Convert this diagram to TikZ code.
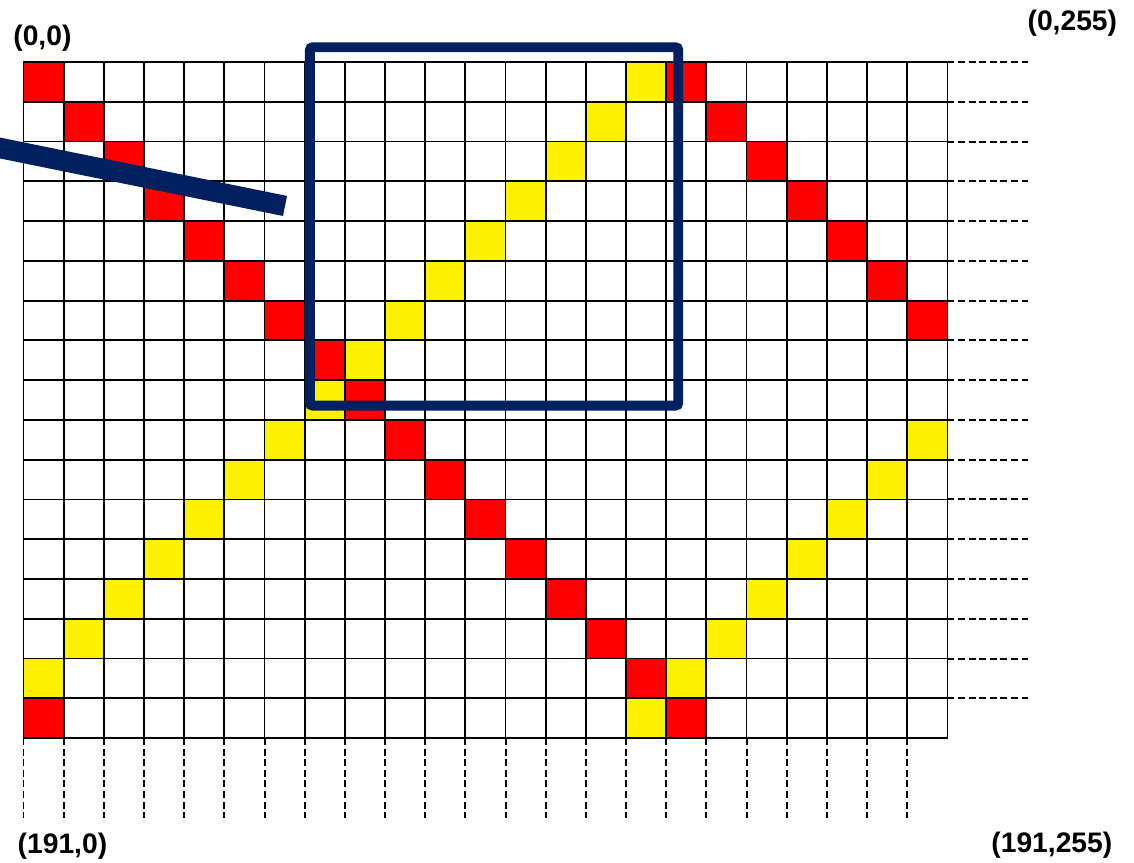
\documentclass[tikz,border=0pt]{standalone}
\usepackage{fontspec}
\setmainfont{Liberation Sans}
\definecolor{bleufonce}{HTML}{002060}
\tikzset{
  grille/.style={line width=1.3pt, black, line cap=rect},
  pointille/.style={line width=1.4pt, black, dash pattern=on 5pt off 2.5pt},
  cadre/.style={draw=bleufonce, line width=7pt, rounded corners=2pt},
  fleche/.style={draw=bleufonce, line width=14.5pt},
  etiquette/.style={font=\fontsize{20}{24}\selectfont\bfseries}
}

\begin{document}
\begin{tikzpicture}[x=1cm, y=-0.99cm]
  \useasboundingbox (-0.585cm,1.543cm) rectangle (27.645cm,-19.94cm);
  \clip (-0.585cm,1.543cm) rectangle (27.645cm,-19.94cm);
  % Cases rouges
  \foreach \i in {0,...,16} {
    \fill[red] (\i,\i) rectangle ++(1,1);
  }
  \foreach \i in {0,...,6} {
    \fill[red] ({16+\i},\i) rectangle ++(1,1);
  }
  \fill[red] (0,16) rectangle ++(1,1);
  % Cases jaunes
  \foreach \i in {0,...,15} {
    \fill[yellow] ({15-\i},\i) rectangle ++(1,1);
  }
  \foreach \i in {9,...,16} {
    \fill[yellow] ({31-\i},\i) rectangle ++(1,1);
  }
  % Grille
  \foreach \i in {0,...,23} {
    \draw[grille] (\i,0) -- (\i,17);
  }
  \foreach \j in {0,...,17} {
    \draw[grille] (0,\j) -- (23,\j);
  }
  % Pointilles (droite et bas)
  \foreach \j in {0,...,16} {
    \draw[pointille] (23,\j) -- (25,\j);
  }
  \foreach \i in {0,...,22} {
    \draw[pointille] (\i,17) -- (\i,19);
  }
  % Cadre bleu
  \coordinate (cadreA) at (7.13,-0.37);
  \coordinate (cadreB) at (16.3,8.64);
  \draw[cadre] (cadreA) rectangle (cadreB);
  % Trait bleu
  \coordinate (traitA) at (-1.33,2.01);
  \coordinate (traitB) at (6.51,3.62);
  \draw[fleche] (traitA) -- (traitB);
  % Coins
  \node[etiquette] (coinHG) at (0.47,-0.60) {(0,0)};
  \node[etiquette] (coinHD) at (26.11,-0.98) {(0,255)};
  \node[etiquette] (coinBG) at (0.97,19.72) {(191,0)};
  \node[etiquette] (coinBD) at (25.6,19.70) {(191,255)};
\end{tikzpicture}
\end{document}
